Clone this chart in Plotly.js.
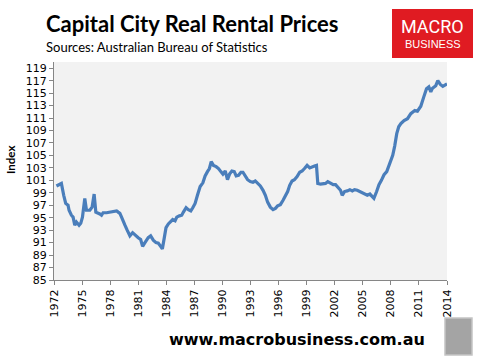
<!DOCTYPE html>
<html>
<head>
<meta charset="utf-8">
<script src="https://cdn.plot.ly/plotly-3.0.1.min.js"></script>
<style>html,body{margin:0;padding:0;background:#fff;}#chart{width:482px;height:359px;}</style>
</head>
<body>
<div id="chart"></div>
<script>
// Decimal years
const years = [1972.26,1972.79,1973.04,1973.25,1973.50,1973.61,1973.86,1974.04,1974.22,1974.40,1974.68,1974.86,
1975.04,1975.29,1975.47,1975.83,1976.07,1976.29,1976.47,1976.72,1976.90,1977.08,1977.25,1977.62,1977.97,
1978.32,1978.69,1978.86,1979.04,1979.22,1979.40,1979.58,1979.82,1980.11,1980.40,1980.65,1981.00,1981.26,
1981.47,1981.72,1982.07,1982.33,1982.61,1982.90,1983.15,1983.40,1983.58,1983.79,1983.97,1984.22,1984.48,
1984.69,1984.94,1985.12,1985.40,1985.65,1985.83,1986.12,1986.36,1986.62,1986.83,1987.08,1987.33,1987.62,
1987.91,1988.15,1988.40,1988.61,1988.80,1989.04,1989.33,1989.58,1989.83,1990.05,1990.30,1990.54,1990.76,
1991.01,1991.26,1991.47,1991.72,1991.98,1992.19,1992.44,1992.69,1992.98,1993.26,1993.51,1993.76,1994.05,
1994.34,1994.59,1994.83,1995.12,1995.41,1995.66,1995.90,1996.19,1996.48,1996.73,1996.97,1997.19,1997.44,
1997.69,1997.98,1998.26,1998.52,1998.77,1999.05,1999.33,1999.59,1999.84,2000.05,2000.19,2000.48,2000.77,
2001.02,2001.26,2001.55,2001.84,2002.09,2002.33,2002.62,2002.80,2003.05,2003.34,2003.62,2003.88,2004.12,
2004.41,2004.69,2004.95,2005.20,2005.48,2005.76,2006.02,2006.19,2006.48,2006.73,2006.99,2007.27,2007.56,
2007.80,2007.99,2008.20,2008.41,2008.63,2008.84,2009.07,2009.41,2009.78,2010.13,2010.56,2010.84,2011.20,
2011.52,2011.81,2012.06,2012.27,2012.45,2012.80,2013.02,2013.29,2013.55,2013.87,2014.00];
// Real rental price index
const indexValues = [100.1,100.5,98.6,97.3,97.0,96.2,95.4,95.1,93.8,94.3,93.8,94.1,
95.1,98.1,96.2,96.2,96.7,98.8,95.9,95.8,95.6,95.4,95.8,95.8,95.9,
95.9,96.1,95.9,95.7,95.1,94.3,93.8,93.0,92.1,92.6,92.2,91.8,91.5,
90.4,91.0,91.8,92.1,91.4,91.0,90.9,90.4,90.0,91.8,93.4,94.0,94.3,
94.7,94.5,95.1,95.3,95.4,95.9,96.6,96.3,96.1,96.6,97.3,98.6,100.0,
100.6,101.7,102.4,102.9,104.0,103.4,103.2,102.9,102.4,102.0,102.5,101.1,102.0,
102.5,102.4,101.7,101.8,102.3,102.3,101.8,101.1,100.8,100.7,100.9,100.5,100.1,
99.4,98.6,97.5,96.7,96.3,96.5,96.9,97.1,97.8,98.4,99.2,100.2,100.9,
101.1,101.6,102.3,102.5,102.9,103.4,103.0,103.2,103.3,103.4,100.5,100.4,100.4,
100.5,100.8,100.6,100.3,100.3,99.8,99.4,98.6,99.2,99.3,99.5,99.3,99.5,
99.4,99.2,98.9,98.8,98.6,98.8,98.3,98.1,99.2,100.3,101.0,101.9,102.4,
103.4,104.2,105.0,106.5,108.5,109.6,110.1,110.6,110.9,111.7,112.2,112.1,112.9,
114.4,115.7,116.0,115.2,115.8,116.2,117.0,116.4,116.1,116.4,116.5];
const xTickVals = [1972,1975,1978,1981,1984,1987,1990,1993,1996,1999,2002,2005,2008,2011,2014];
const yRange = [85,120];

const titleText = "Capital City Real Rental Prices";
const subtitleText = "Sources: Australian Bureau of Statistics";
const yTitle = "Index";
const siteText = "www.macrobusiness.com.au";

// plot area in pixels
const W = 482, H = 359, L = 54, R = 447, T = 62, B = 280;
const px = x => (x - L) / (R - L);
const py = y => (B - y) / (B - T);

const trace = {
  x: years, y: indexValues, type: 'scatter', mode: 'lines',
  line: {color: '#4a7ebb', width: 3.2, shape: 'linear'},
  hoverinfo: 'skip'
};

const layout = {
  width: W, height: H,
  margin: {l: L, r: W - R, t: T, b: H - B, pad: 0},
  paper_bgcolor: '#ffffff',
  plot_bgcolor: '#f2f2f2',
  showlegend: false,
  xaxis: {
    range: [1972, 2014], tickmode: 'array', tickvals: xTickVals,
    ticktext: xTickVals.map(String), tickangle: -90,
    ticks: 'outside', ticklen: 4, tickcolor: '#868686', tickwidth: 1,
    showline: true, linecolor: '#868686', linewidth: 1,
    showgrid: false, zeroline: false,
    tickfont: {family: 'DejaVu Sans', size: 11, color: '#000'}
  },
  yaxis: {
    range: yRange, tick0: 85, dtick: 2,
    ticks: 'outside', ticklen: 4, tickcolor: '#868686', tickwidth: 1,
    showline: true, linecolor: '#868686', linewidth: 1,
    showgrid: false, zeroline: false,
    tickfont: {family: 'DejaVu Sans', size: 11, color: '#000'}
  },
  shapes: [
    {type: 'rect', xref: 'paper', yref: 'paper', x0: px(392), x1: px(473), y0: py(9), y1: py(58),
     fillcolor: '#e01b22', line: {width: 0}, layer: 'above'},
    {type: 'rect', xref: 'paper', yref: 'paper', x0: px(445), x1: px(472), y0: py(318), y1: py(355),
     fillcolor: '#a4a4a4', line: {width: 1.5, color: '#c4c4c4'}, layer: 'above'}
  ],
  annotations: [
    {text: '<b>' + titleText + '</b>', xref: 'paper', yref: 'paper', x: px(44), y: py(24),
     xanchor: 'left', yanchor: 'middle', showarrow: false,
     font: {family: 'Lato', size: 22, color: '#000'}},
    {text: subtitleText, xref: 'paper', yref: 'paper', x: px(44), y: py(47),
     xanchor: 'left', yanchor: 'middle', showarrow: false,
     font: {family: 'Lato', size: 13, color: '#000'}},
    {text: '<b>' + yTitle + '</b>', xref: 'paper', yref: 'paper', x: px(10), y: py(160),
     xanchor: 'center', yanchor: 'middle', showarrow: false, textangle: -90,
     font: {family: 'Lato', size: 11.5, color: '#000'}},
    {text: 'MACRO', xref: 'paper', yref: 'paper', x: px(432.5), y: py(27),
     xanchor: 'center', yanchor: 'middle', showarrow: false,
     font: {family: 'Roboto', size: 18, color: '#ffffff'}},
    {text: 'BUSINESS', xref: 'paper', yref: 'paper', x: px(432.5), y: py(44),
     xanchor: 'center', yanchor: 'middle', showarrow: false,
     font: {family: 'Liberation Sans', size: 11, color: '#ffffff'}},
    {text: '<b>' + siteText + '</b>', xref: 'paper', yref: 'paper', x: px(427), y: py(339),
     xanchor: 'right', yanchor: 'middle', showarrow: false,
     font: {family: 'DejaVu Sans', size: 16, color: '#000'}}
  ]
};

Plotly.newPlot('chart', [trace], layout, {staticPlot: true, displayModeBar: false});
</script>
</body>
</html>
